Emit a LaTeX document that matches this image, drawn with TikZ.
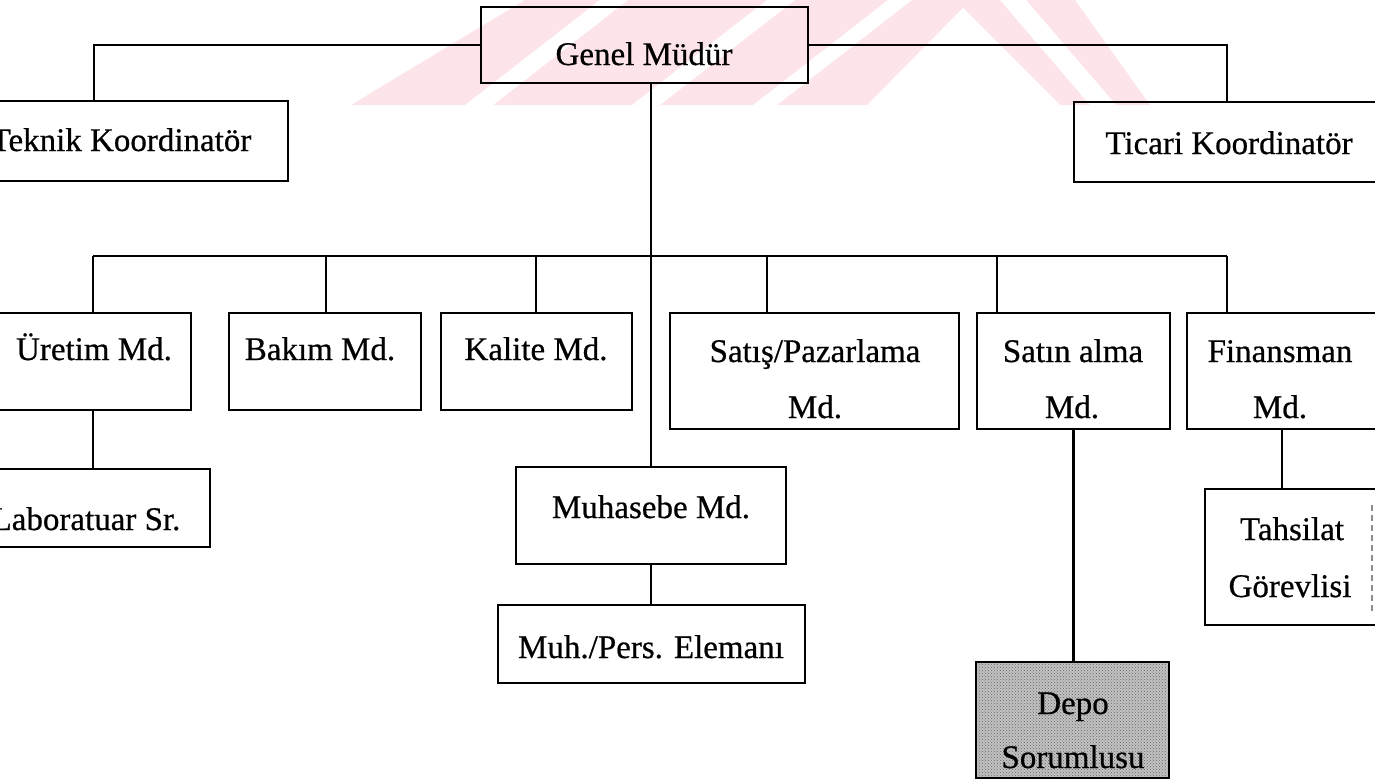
\documentclass[tikz,border=0pt]{standalone}
\usepackage{fontspec}
\setmainfont[FakeBold=0.6]{Liberation Serif}
\usetikzlibrary{patterns}
\definecolor{wmpink}{RGB}{252,228,233}
\begin{document}
\begin{tikzpicture}[x=1pt,y=-1pt,
  box/.style={draw=black, line width=2.8pt, inner sep=0pt, outer sep=0pt},
  shaded/.style={box, preaction={fill=black!24}, pattern=crosshatch dots, pattern color=black!60},
  lbl/.style={anchor=base, inner sep=0pt, font=\fontsize{33}{40}\selectfont},
  link/.style={draw=black, line width=2.8pt}]
\useasboundingbox (0,0) rectangle (1375,780);
\clip (0,0) rectangle (1375,780);

% faint striped emblem behind the top row
\fill[wmpink] (351,105) -- (525,0) -- (1075,0) -- (1150,105) -- cycle;
\fill[white] (867,105) -- (963,8) -- (1060,105) -- cycle;
\fill[white] (465,105) -- (600,0) -- (628,0) -- (493,105) -- cycle;
\fill[white] (632,105) -- (767,0) -- (795,0) -- (660,105) -- cycle;
\fill[white] (753,105) -- (888,0) -- (912,0) -- (777,105) -- cycle;
\fill[white] (1000,0) -- (1026,0) -- (1116,105) -- (1090,105) -- cycle;

% boxes
\node[box, minimum width=327pt, minimum height=76pt]  (genel)    at (644.5,45) {};
\node[box, minimum width=328pt, minimum height=80pt]  (teknik)   at (124,141) {};
\node[box, minimum width=316pt, minimum height=80pt]  (ticari)   at (1232,142) {};
\node[box, minimum width=201pt, minimum height=97pt]  (uretim)   at (90.5,361.5) {};
\node[box, minimum width=192pt, minimum height=97pt]  (bakim)    at (325,361.5) {};
\node[box, minimum width=191pt, minimum height=97pt]  (kalite)   at (536.5,361.5) {};
\node[box, minimum width=289pt, minimum height=116pt] (satis)    at (814.5,371) {};
\node[box, minimum width=193pt, minimum height=116pt] (satin)    at (1073.5,371) {};
\node[box, minimum width=198pt, minimum height=116pt] (finans)   at (1286,371) {};
\node[box, minimum width=240pt, minimum height=78pt]  (labor)    at (90,508) {};
\node[box, minimum width=270pt, minimum height=97pt]  (muhasebe) at (651,515.5) {};
\node[box, minimum width=307pt, minimum height=78pt]  (muhpers)  at (651.5,644) {};
\node[box, minimum width=180pt, minimum height=136pt] (tahsilat) at (1295,557) {};
\node[shaded, minimum width=193pt, minimum height=116pt] (depo)  at (1072.5,720) {};

% faint right edge of the Tahsilat box at the border
\draw[black!45, line width=1.6pt, dash pattern=on 6pt off 4pt] (1372,505) -- (1372,612);

% labels
\node[lbl] (t-genel)   at (644,65)   {Genel Müdür};
\node[lbl] (t-teknik)  at (121,151)  {Teknik Koordinatör};
\node[lbl] (t-ticari)  at (1229,154) {Ticari Koordinatör};
\node[lbl] (t-uretim)  at (94,360)   {Üretim Md.};
\node[lbl] (t-bakim)   at (320,360)  {Bakım Md.};
\node[lbl] (t-kalite)  at (536,360)  {Kalite Md.};
\node[lbl] (t-satis1)  at (815,362)  {Satış/Pazarlama};
\node[lbl] (t-satis2)  at (815,418)  {Md.};
\node[lbl] (t-satin1)  at (1073,362) {Satın alma};
\node[lbl] (t-satin2)  at (1072,418) {Md.};
\node[lbl] (t-fin1)    at (1280,362) {Finansman};
\node[lbl] (t-fin2)    at (1280,418) {Md.};
\node[lbl] (t-labor)   at (86,530)   {Laboratuar Sr.};
\node[lbl] (t-muh)     at (651,518)  {Muhasebe Md.};
\node[lbl] (t-muhpers) at (651,658)  {Muh./Pers. Elemanı};
\node[lbl] (t-tah1)    at (1292,540) {Tahsilat};
\node[lbl] (t-tah2)    at (1290,597) {Görevlisi};
\node[lbl] (t-depo1)   at (1073,714) {Depo};
\node[lbl] (t-depo2)   at (1073,768) {Sorumlusu};

% junction points
\coordinate (tkdrop) at (94,101);
\coordinate (tcdrop) at (1227,102);
\coordinate (busL) at (93,256);
\coordinate (b2)   at (326,256);
\coordinate (b3)   at (536,256);
\coordinate (b4)   at (767,256);
\coordinate (b5)   at (997,256);
\coordinate (busR) at (1227,256);
\coordinate (fdrop) at (1282,429);

% connectors
\draw[link] (genel.west) -| (tkdrop);
\draw[link] (genel.east) -| (tcdrop);
\draw[link] (genel.south -| muhasebe.north) -- (muhasebe.north);
\draw[link] (busL) -- (busR);
\draw[link] (busL) -- (busL |- uretim.north);
\draw[link] (b2) -- (b2 |- bakim.north);
\draw[link] (b3) -- (b3 |- kalite.north);
\draw[link] (b4) -- (b4 |- satis.north);
\draw[link] (b5) -- (b5 |- satin.north);
\draw[link] (busR) -- (busR |- finans.north);
\draw[link] (busL |- uretim.south) -- (busL |- labor.north);
\draw[link] (muhasebe.south) -- (muhasebe.south |- muhpers.north);
\draw[link] (satin.south) -- (satin.south |- depo.north);
\draw[link] (fdrop) -- (fdrop |- tahsilat.north);
\end{tikzpicture}
\end{document}
